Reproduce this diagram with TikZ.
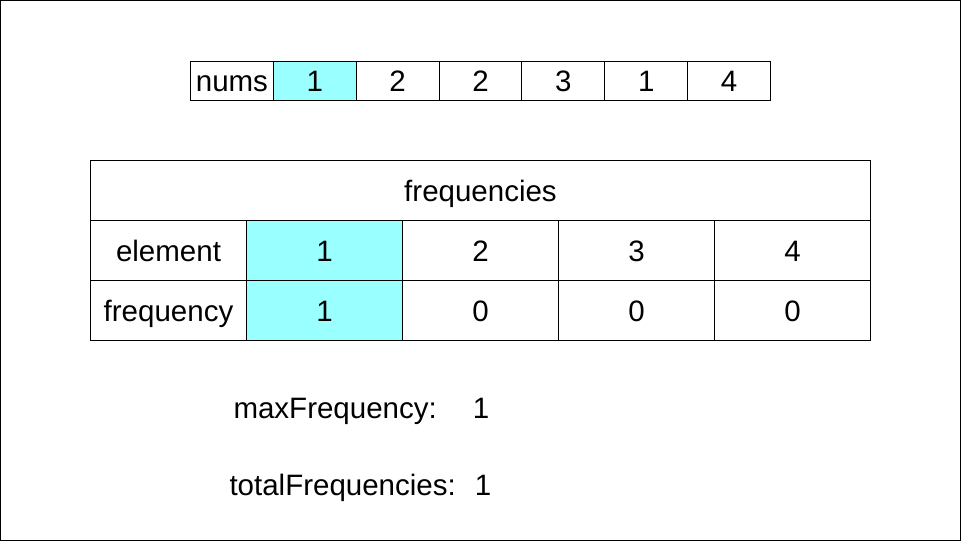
\documentclass[tikz,border=0pt]{standalone}
\usepackage{fontspec}
\setmainfont{Liberation Sans}
\definecolor{hl}{HTML}{99FFFF}
\begin{document}
\begin{tikzpicture}[x=1pt,y=-1pt,line width=1pt,
  font=\fontsize{29.5}{34}\selectfont,
  every node/.style={inner sep=0pt,text height=27pt,text depth=5pt},
  cell/.style={draw,minimum width=82.86pt,minimum height=39pt},
  tcell/.style={draw,minimum width=156pt,minimum height=60pt},
  hit/.style={fill=hl}, plain/.style={}]
  \useasboundingbox (0,0) rectangle (961,541);
  \draw (0.5,0.5) rectangle (960.5,540.5);
  % nums array
  \node[cell] (nums) at (231.93,80.5) {nums};
  \foreach \v/\s [count=\i] in {1/hit,2/plain,2/plain,3/plain,1/plain,4/plain}
    \node[cell,\s] (n\i) at ({190.5+82.86*(\i+0.5)},80.5) {\v};
  % frequencies table
  \node[draw,minimum width=780pt,minimum height=60pt] (freq) at (480.5,190.5) {frequencies};
  \node[tcell] (el) at (168.5,250.5) {element};
  \node[tcell] (fr) at (168.5,310.5) {frequency};
  \foreach \e/\f/\s [count=\i] in {1/1/hit,2/0/plain,3/0/plain,4/0/plain} {
    \node[tcell,\s] (e\i) at ({168.5+156*\i},250.5) {\e};
    \node[tcell,\s] (f\i) at ({168.5+156*\i},310.5) {\f};
  }
  % counters
  \node[anchor=west] (maxf) at (233,407) {maxFrequency:};
  \node (maxv) at (481,407) {1};
  \node[anchor=west] (totf) at (229,484) {totalFrequencies:};
  \node (totv) at (483,484) {1};
\end{tikzpicture}
\end{document}
